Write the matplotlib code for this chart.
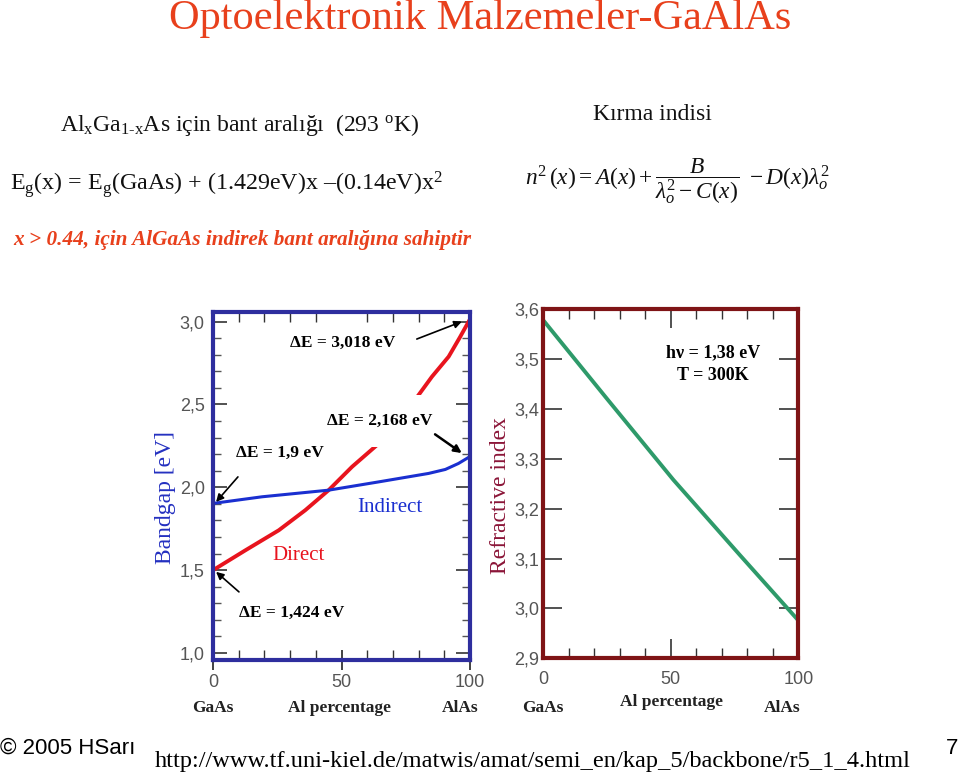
import matplotlib.pyplot as plt
import numpy as np
from matplotlib.ticker import MultipleLocator, FixedLocator, FuncFormatter

plt.rcParams['mathtext.fontset'] = 'custom'
plt.rcParams['mathtext.rm'] = 'Liberation Serif'
plt.rcParams['mathtext.it'] = 'Liberation Serif:italic'
plt.rcParams['mathtext.bf'] = 'Liberation Serif:bold'

#%% Data

# bandgap vs Al percentage
al_direct = [0, 12.6, 25.6, 35.9, 45.0, 54.1, 63.8, 78.1, 85.2, 91.7, 96.2, 100]
eg_direct = [1.50, 1.62, 1.741, 1.862, 1.983, 2.124, 2.255, 2.517, 2.668, 2.789, 2.909, 3.015]
al_indirect = [0, 19.1, 45.0, 64.5, 83.9, 90.4, 95.5, 100]
eg_indirect = [1.903, 1.943, 1.983, 2.033, 2.084, 2.108, 2.144, 2.186]

# refractive index vs Al percentage
al_n = [0, 24.9, 51.0, 77.1, 100]
n_index = [3.578, 3.421, 3.258, 3.107, 2.976]

bandgap_ticks = [1.0, 1.5, 2.0, 2.5, 3.0]
index_ticks = [2.9, 3.0, 3.1, 3.2, 3.3, 3.4, 3.5, 3.6]
pct_ticks = [0, 50, 100]

#%% Helpers

W, H = 960, 772
def fx(x): return x / W
def fy(y): return 1 - y / H

comma = FuncFormatter(lambda v, p: ('%.1f' % v).replace('.', ','))
serif = 'Liberation Serif'
sans = 'Liberation Sans'

fig = plt.figure(figsize=(9.6, 7.72), dpi=100)

#%% Slide texts

fig.text(fx(480), fy(29), 'Optoelektronik Malzemeler-GaAlAs', ha='center', va='baseline',
         fontsize=30.5, family=serif, color='#E8401C')
fig.text(fx(60), fy(131), 'Al$_\\mathrm{x}$Ga$_\\mathrm{1\u2010x}$As için bant aralığı  (293 $^\\mathrm{o}$K)',
         ha='left', va='baseline', fontsize=17, family=serif, color='#111111')
fig.text(fx(10), fy(190), r'E$_\mathrm{g}$(x) = E$_\mathrm{g}$(GaAs) + (1.429eV)x –(0.14eV)x$^\mathrm{2}$',
         ha='left', va='baseline', fontsize=17.3, family=serif, color='#111111')
fig.text(fx(13), fy(245), 'x > 0.44, için AlGaAs indirek bant aralığına sahiptir',
         ha='left', va='baseline', fontsize=15.3, family=serif, weight='bold', style='italic',
         color='#E8401C')
fig.text(fx(652), fy(120), 'Kırma indisi', ha='center', va='baseline', fontsize=17,
         family=serif, color='#111111')
fig.text(fx(525), fy(184),
         r'$n^2\,(x) = A(x) + \dfrac{B}{\lambda_o^2 - C(x)}\ - D(x)\lambda_o^2$',
         ha='left', va='baseline', fontsize=16.8, color='#111111')

fig.text(fx(0), fy(754), '© 2005 HSarı', ha='left', va='baseline', fontsize=16, family=sans)
fig.text(fx(155), fy(767), 'http://www.tf.uni-kiel.de/matwis/amat/semi_en/kap_5/backbone/r5_1_4.html',
         ha='left', va='baseline', fontsize=17.6, family=serif)
fig.text(fx(958), fy(754), '7', ha='right', va='baseline', fontsize=16, family=sans)

#%% Left chart: bandgap

frame_blue = '#2E2E9E'
ax1 = fig.add_axes([fx(213), fy(660), (470 - 213) / W, (660 - 311.7) / H])
ax1.plot(al_direct, eg_direct, color='#E8141E', lw=2.8, solid_capstyle='butt')
ax1.plot(al_indirect, eg_indirect, color='#1A2FD0', lw=2.2)
ax1.set_xlim(0, 100)
ax1.set_ylim(0.958, 3.06)
for s in ax1.spines.values():
    s.set_color(frame_blue)
    s.set_linewidth(3)
ax1.yaxis.set_major_locator(FixedLocator(bandgap_ticks))
ax1.yaxis.set_minor_locator(MultipleLocator(0.1))
ax1.yaxis.set_major_formatter(comma)
ax1.xaxis.set_major_locator(FixedLocator(pct_ticks))
ax1.xaxis.set_minor_locator(MultipleLocator(10))
ax1.tick_params(axis='y', which='major', direction='in', length=10, width=1.2, color='#333333',
                left=True, right=True, labelsize=13, labelcolor='#555555', pad=6)
ax1.tick_params(axis='y', which='minor', direction='in', length=6, width=1, color='#555555',
                left=True, right=True)
ax1.tick_params(axis='x', which='major', direction='inout', length=14, width=1.2, color='#222222',
                top=False, labelsize=13, labelcolor='#555555', pad=3)
ax1.tick_params(axis='x', which='minor', direction='in', length=7, width=1, color='#333333',
                top=True, bottom=True)
for lab in ax1.get_xticklabels() + ax1.get_yticklabels():
    lab.set_family(sans)

ax1.text(50.6, 2.871, 'ΔE = 3,018 eV', ha='center', va='center', fontsize=12.5, family=serif,
         weight='bold', bbox=dict(facecolor='white', edgecolor='none', pad=4))
ax1.text(65, 2.40, 'ΔE = 2,168 eV', ha='center', va='center', fontsize=12.5, family=serif,
         weight='bold', bbox=dict(facecolor='white', edgecolor='none', pad=13))
ax1.text(26.1, 2.208, 'ΔE = 1,9 eV', ha='center', va='center', fontsize=12.5, family=serif,
         weight='bold')
ax1.text(30.6, 1.24, 'ΔE = 1,424 eV', ha='center', va='center', fontsize=12.5, family=serif,
         weight='bold')
ax1.text(68.9, 1.88, 'Indirect', ha='center', va='center', fontsize=15, family=serif,
         color='#1A2FD0')
ax1.text(33.1, 1.59, 'Direct', ha='center', va='center', fontsize=15, family=serif,
         color='#E8141E')

arrow = dict(arrowstyle='-|>', color='black', lw=1.2, mutation_scale=11, shrinkA=0, shrinkB=0)
ax1.annotate('', xy=(96.8, 3.0), xytext=(79.3, 2.895), arrowprops=arrow)
ax1.annotate('', xy=(96.8, 2.207), xytext=(86.4, 2.32), arrowprops=dict(arrow, lw=1.8))
ax1.annotate('', xy=(1.2, 1.912), xytext=(9.7, 2.063), arrowprops=arrow)
ax1.annotate('', xy=(1.2, 1.49), xytext=(10.1, 1.369), arrowprops=arrow)

fig.text(fx(165), fy(497), 'Bandgap [eV]', rotation=90, ha='center', va='center', fontsize=17,
         family=serif, color='#2430C0')
for x, t in [(213, 'GaAs'), (340, 'Al percentage'), (460, 'AlAs')]:
    fig.text(fx(x), fy(708), t, ha='center', va='center', fontsize=12.5, family=serif,
             weight='bold', color='#222222')

#%% Right chart: refractive index

frame_red = '#7F1416'
ax2 = fig.add_axes([fx(543.3), fy(658.3), (798.3 - 543.3) / W, (658.3 - 309.3) / H])
ax2.plot(al_n, n_index, color='#2E9A6A', lw=2.8)
ax2.set_xlim(0, 100)
ax2.set_ylim(2.9, 3.6)
for s in ax2.spines.values():
    s.set_color(frame_red)
    s.set_linewidth(3)
ax2.yaxis.set_major_locator(FixedLocator(index_ticks))
ax2.yaxis.set_major_formatter(comma)
ax2.xaxis.set_major_locator(FixedLocator(pct_ticks))
ax2.xaxis.set_minor_locator(MultipleLocator(10))
ax2.tick_params(axis='y', which='major', direction='in', length=14, width=1.2, color='#333333',
                left=True, right=True, labelsize=13, labelcolor='#555555', pad=3)
ax2.tick_params(axis='x', which='major', direction='in', length=14, width=1.2, color='#333333',
                top=True, labelsize=13, labelcolor='#555555', pad=9)
ax2.tick_params(axis='x', which='minor', direction='in', length=7, width=1, color='#333333',
                top=True, bottom=True)
for lab in ax2.get_xticklabels() + ax2.get_yticklabels():
    lab.set_family(sans)

ax2.text(66.5, 3.512, 'hν = 1,38 eV', ha='center', va='center', fontsize=13, family=serif,
         weight='bold')
ax2.text(66.5, 3.468, 'T = 300K', ha='center', va='center', fontsize=13, family=serif,
         weight='bold')

fig.text(fx(500), fy(495), 'Refractive index', rotation=90, ha='center', va='center', fontsize=17,
         family=serif, color='#8B1538')
for x, y, t in [(543, 708, 'GaAs'), (672, 702, 'Al percentage'), (782, 708, 'AlAs')]:
    fig.text(fx(x), fy(y), t, ha='center', va='center', fontsize=12.5, family=serif,
             weight='bold', color='#222222')

plt.savefig('out.png', dpi=100)
